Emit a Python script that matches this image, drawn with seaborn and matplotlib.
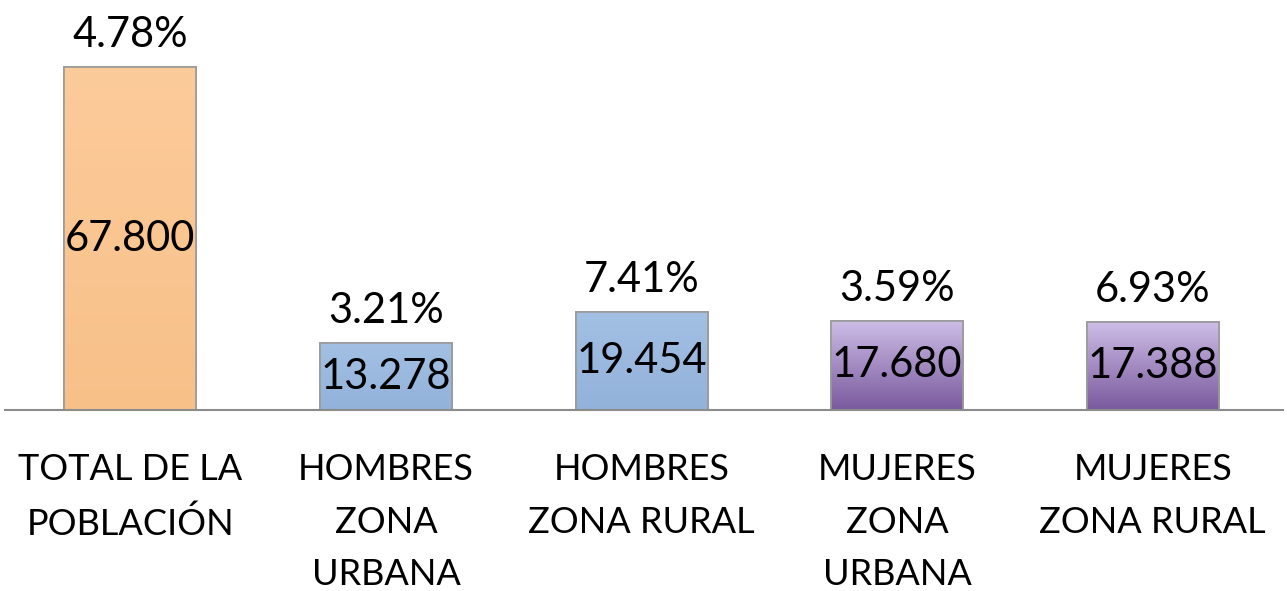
import numpy as np
import pandas as pd
import seaborn as sns
import matplotlib.pyplot as plt
from matplotlib.colors import LinearSegmentedColormap

categorias = ['TOTAL DE LA\nPOBLACIÓN', 'HOMBRES\nZONA\nURBANA', 'HOMBRES\nZONA RURAL',
              'MUJERES\nZONA\nURBANA', 'MUJERES\nZONA RURAL']
valores = [67800, 13278, 19454, 17680, 17388]
etiquetas_valor = ['67.800', '13.278', '19.454', '17.680', '17.388']
porcentajes = ['4.78%', '3.21%', '7.41%', '3.59%', '6.93%']
colores_claro = ['#FCCB9A', '#A3C0E4', '#A3C0E4', '#CDBDE6', '#CDBDE6']
colores_oscuro = ['#F8C089', '#93B2DA', '#93B2DA', '#7A5A9E', '#7A5A9E']

sns.set_style("white")
plt.rcParams['font.family'] = ['Lato', 'DejaVu Sans']
plt.rcParams['text.color'] = 'black'
plt.rcParams['xtick.color'] = 'black'

df = pd.DataFrame({'cat': categorias, 'valor': valores})

fig = plt.figure(figsize=(12.87, 5.91), dpi=100)
ax = fig.add_axes([0.004, 0.306, 0.993, 0.694])
sns.barplot(data=df, x='cat', y='valor', hue='cat', palette=colores_claro,
            legend=False, width=0.516, ax=ax, edgecolor='#9a9a9a', linewidth=1.2)

# degradado vertical en cada barra
for i, p in enumerate(ax.patches):
    x0, y0 = p.get_x(), p.get_y()
    w, h = p.get_width(), p.get_height()
    cmap = LinearSegmentedColormap.from_list('g', [colores_oscuro[i], colores_claro[i]])
    grad = np.linspace(0, 1, 100).reshape(-1, 1)
    im = ax.imshow(grad, extent=[x0, x0 + w, y0, y0 + h], origin='lower',
                   cmap=cmap, aspect='auto', zorder=p.get_zorder() + 0.1)
    im.set_clip_path(p)
    ax.add_patch(plt.Rectangle((x0, y0), w, h, fill=False, edgecolor='#9a9a9a',
                               linewidth=1.2, zorder=p.get_zorder() + 0.2))
ax.set_xlim(-0.49, 4.51)
ax.set_ylim(0, 67800 * 410 / 343)

for i, v in enumerate(valores):
    ax.text(i, v / 2, etiquetas_valor[i], ha='center', va='center', fontsize=30, zorder=5)
    ax.text(i, v + 2600, porcentajes[i], ha='center', va='bottom', fontsize=30, zorder=5)

ax.set_xlabel('')
ax.set_ylabel('')
ax.set_yticks([])
ax.tick_params(axis='x', length=0, pad=31, labelsize=26)
for lab in ax.get_xticklabels():
    lab.set_linespacing(1.72)
    lab.set_verticalalignment('top')
for s in ['top', 'left', 'right']:
    ax.spines[s].set_visible(False)
ax.spines['bottom'].set_color('#8c8c8c')
ax.spines['bottom'].set_linewidth(1.5)

plt.savefig('out.png', dpi=100)
